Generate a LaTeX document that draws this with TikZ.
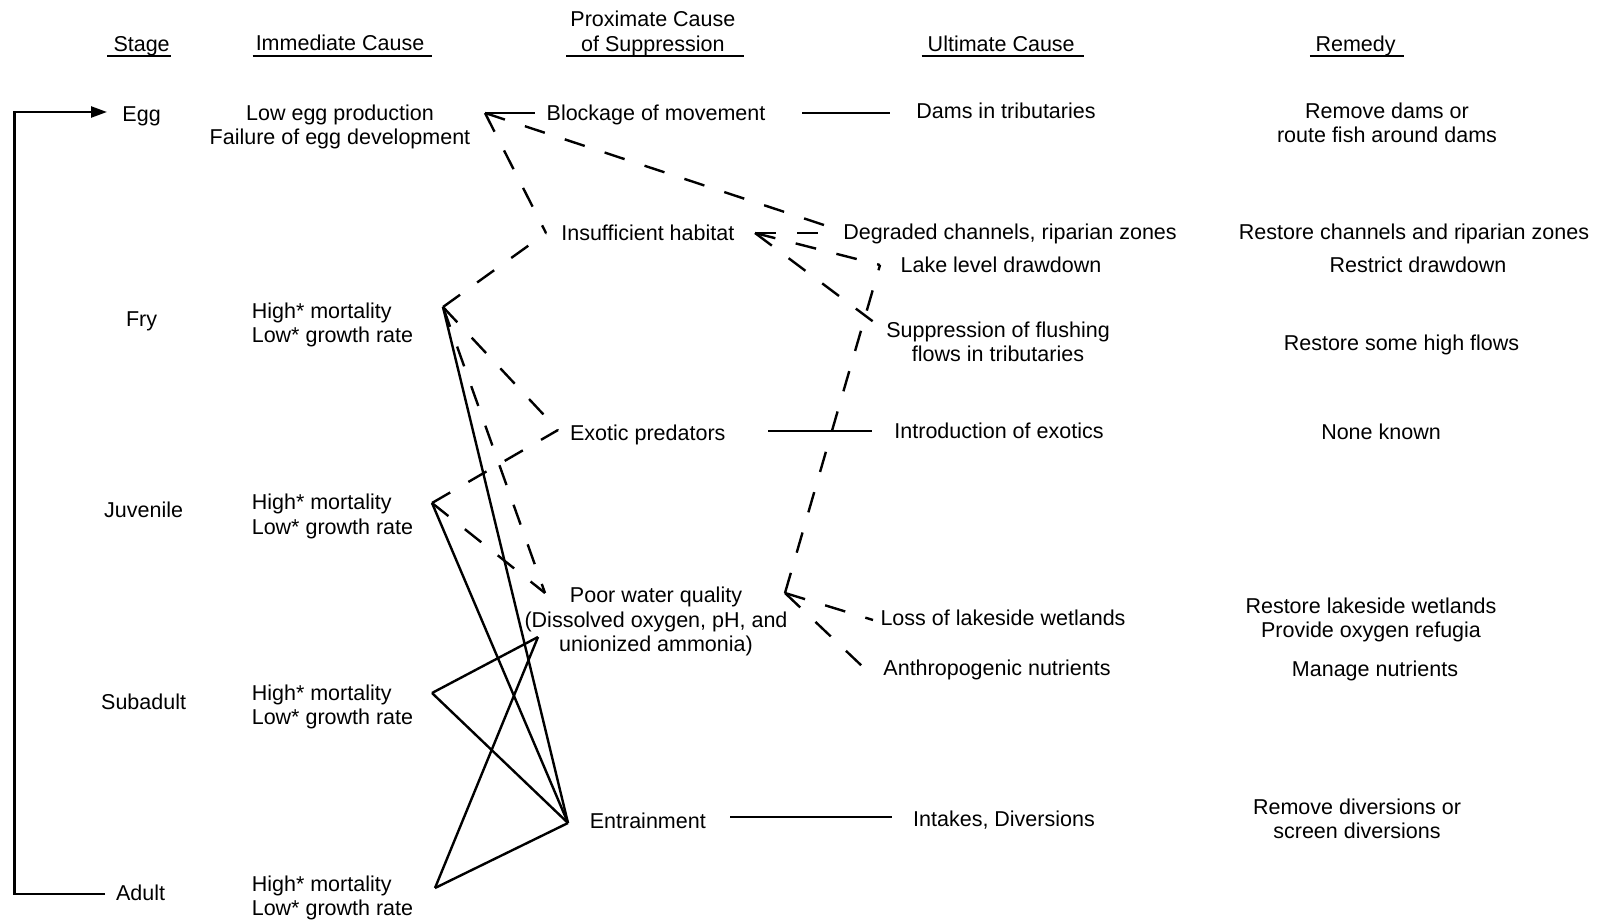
\documentclass[tikz,border=0pt]{standalone}
\usepackage{fontspec}
\setmainfont{Liberation Sans}
\usetikzlibrary{arrows.meta}
\begin{document}
\begin{tikzpicture}[x=1pt,y=-1pt,
  txt/.style={inner sep=0pt, anchor=base, font=\fontsize{21.5}{24.4}\selectfont, align=center},
  txtl/.style={inner sep=0pt, anchor=base west, font=\fontsize{21.5}{24.4}\selectfont, align=left},
  uline/.style={line width=2.6pt},
  link/.style={line width=2.4pt, line cap=butt},
  dlink/.style={link, dash pattern=on 21pt off 21pt},
]
\useasboundingbox (0,0) rectangle (1597,920);
% headers (multi-line nodes: base = last line)
\node[txt] (hStage) at (141.6,52) {Stage};
\node[txt] (hImm) at (340,51) {Immediate Cause};
\node[txt] (hProx) at (652.9,51.3) {Proximate Cause\\of Suppression};
\node[txt] (hUlt) at (1001.2,52) {Ultimate Cause};
\node[txt] (hRem) at (1355.6,52) {Remedy};
\draw[uline] (107,56) -- (171,56);
\draw[uline] (252.6,56) -- (431.8,56);
\draw[uline] (566,56) -- (743.5,56);
\draw[uline] (921.7,56) -- (1083.7,56);
\draw[uline] (1309.8,56) -- (1403.5,56);
% stages
\node[txt] (egg) at (141.6,121.5) {Egg};
\node[txt] (fry) at (141.6,326.3) {Fry};
\node[txt] (juv) at (143.6,517.8) {Juvenile};
\node[txt] (sub) at (143.6,709.2) {Subadult};
\node[txt] (adult) at (140.6,900.7) {Adult};
% immediate causes
\node[txt] (iEgg) at (340,145) {Low egg production\\Failure of egg development};
\node[txtl] (iFry) at (251.6,342.5) {High* mortality\\Low* growth rate};
\node[txtl] (iJuv) at (251.6,534) {High* mortality\\Low* growth rate};
\node[txtl] (iSub) at (251.6,724.5) {High* mortality\\Low* growth rate};
\node[txtl] (iAd) at (251.6,915.5) {High* mortality\\Low* growth rate};
% proximate causes
\node[txt] (blk) at (656,121) {Blockage of movement};
\node[txt] (ins) at (647.8,240.7) {Insufficient habitat};
\node[txt] (exo) at (647.8,440.3) {Exotic predators};
\node[txt] (pwq) at (656,651.5) {Poor water quality\\(Dissolved oxygen, pH, and\\unionized ammonia)};
\node[txt] (ent) at (647.8,828.4) {Entrainment};
% ultimate causes
\node[txt] (dams) at (1006,118.5) {Dams in tributaries};
\node[txt] (deg) at (1010,239.7) {Degraded channels, riparian zones};
\node[txt] (lake) at (1001,272.3) {Lake level drawdown};
\node[txt] (sup) at (998,361.9) {Suppression of flushing\\flows in tributaries};
\node[txt] (intr) at (999,438.3) {Introduction of exotics};
\node[txt] (loss) at (1003,625.7) {Loss of lakeside wetlands};
\node[txt] (anth) at (997,675.5) {Anthropogenic nutrients};
\node[txt] (intk) at (1004,826.5) {Intakes, Diversions};
% remedies
\node[txt] (rDams) at (1387,142.9) {Remove dams or\\route fish around dams};
\node[txt] (rDeg) at (1414,239.7) {Restore channels and riparian zones};
\node[txt] (rLake) at (1418,272.3) {Restrict drawdown};
\node[txt] (rSup) at (1401.5,350.7) {Restore some high flows};
\node[txt] (rExo) at (1381,439.3) {None known};
\node[txt] (rLoss) at (1371,637.9) {Restore lakeside wetlands\\Provide oxygen refugia};
\node[txt] (rAnth) at (1375,676.5) {Manage nutrients};
\node[txt] (rInt) at (1357,838.5) {Remove diversions or\\screen diversions};
% connector end points
\coordinate (eggT) at (485,113);
\coordinate (blkL) at (535,113);
\coordinate (blkR) at (802,113);
\coordinate (damsL) at (890,113);
\coordinate (degL1) at (830,227);
\coordinate (degL2) at (830,233);
\coordinate (insL) at (546,233);
\coordinate (insR) at (755,233);
\coordinate (lakeL) at (880,265);
\coordinate (supL) at (875,323);
\coordinate (fryT) at (443,307);
\coordinate (juvT) at (432,503);
\coordinate (subT) at (432,693);
\coordinate (adT) at (435,888);
\coordinate (exoL) at (558,430);
\coordinate (exoR) at (768,431);
\coordinate (intrL) at (872,431);
\coordinate (pwqL) at (545,593);
\coordinate (pwqB) at (538,637);
\coordinate (pwqR) at (785,593);
\coordinate (lossL) at (873,620);
\coordinate (anthL) at (863,667);
\coordinate (entT) at (568,823);
\coordinate (entR) at (730,817);
\coordinate (intkL) at (892,817);
\coordinate (fbS) at (105,894);
\coordinate (fbC) at (14.3,112);
\coordinate (fbE) at (107,112);
% feedback arrow
\draw[link, line join=miter, -{Triangle[length=16pt,width=11pt]}] (fbS) -| (fbC) -- (fbE);
% solid links
\draw[link] (eggT) -- (blkL);
\draw[link] (blkR) -- (damsL);
\draw[link] (exoR) -- (intrL);
\draw[link] (entR) -- (intkL);
\draw[link] (fryT) -- (entT);
\draw[link] (juvT) -- (entT);
\draw[link] (subT) -- (entT);
\draw[link] (adT) -- (entT);
\draw[link] (subT) -- (pwqB);
\draw[link] (adT) -- (pwqB);
% dashed links
\draw[dlink] (eggT) -- (insL);
\draw[dlink] (eggT) -- (degL1);
\draw[dlink] (fryT) -- (insL);
\draw[dlink] (insR) -- (degL2);
\draw[dlink] (insR) -- (lakeL);
\draw[dlink] (insR) -- (supL);
\draw[dlink] (pwqR) -- (lakeL);
\draw[dlink] (fryT) -- (exoL);
\draw[dlink] (juvT) -- (exoL);
\draw[dlink] (fryT) -- (pwqL);
\draw[dlink] (juvT) -- (pwqL);
\draw[dlink] (pwqR) -- (lossL);
\draw[dlink] (pwqR) -- (anthL);
\end{tikzpicture}
\end{document}
